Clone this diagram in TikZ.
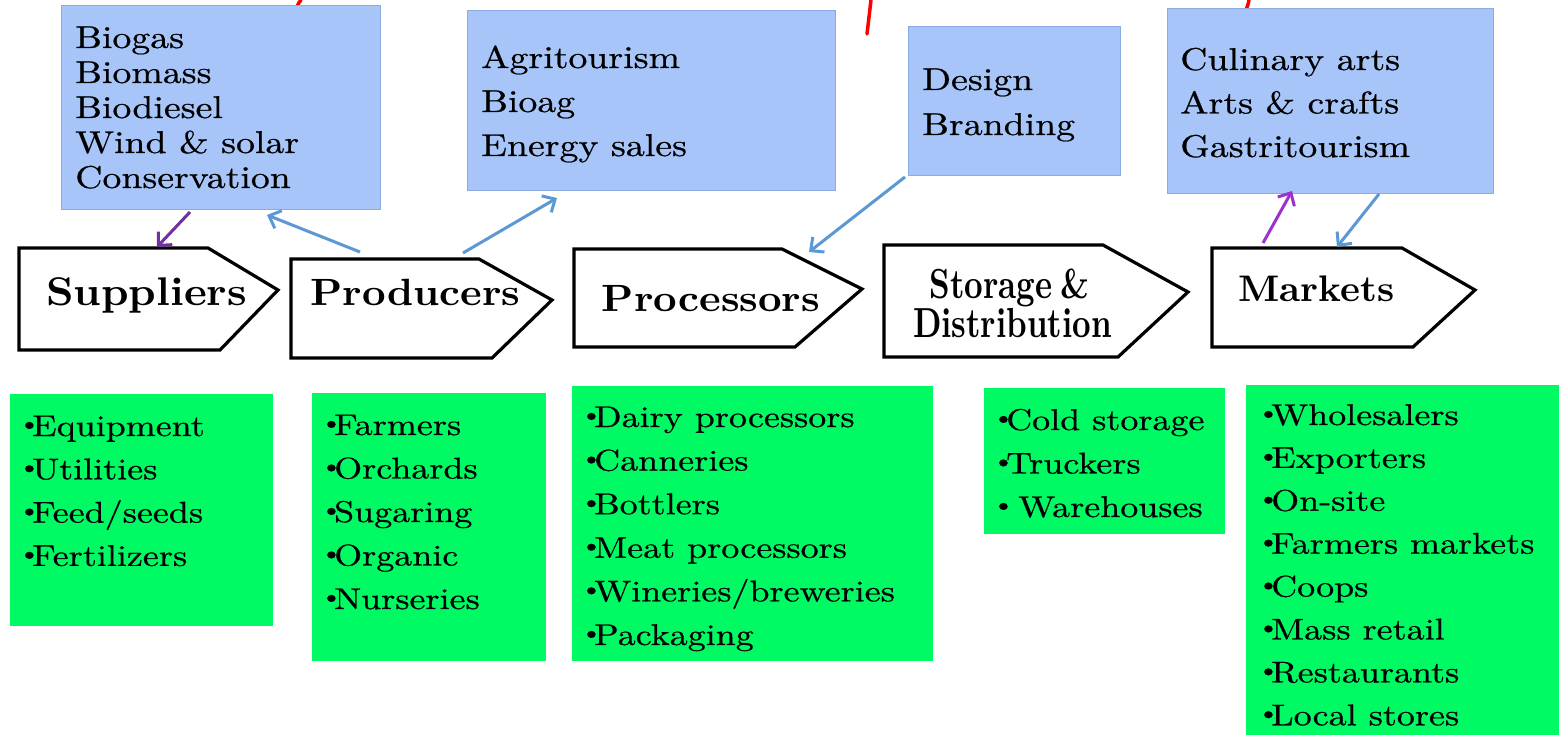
\documentclass[tikz,border=0pt]{standalone}
\usepackage{fontspec}
\usetikzlibrary{arrows.meta}
\newfontfamily\fbody[FakeStretch=1.2, FakeBold=0.6]{lmroman10-regular.otf}
\newfontfamily\fhead[FakeStretch=1.08]{lmroman10-bold.otf}
\newfontfamily\fmk[FakeStretch=1.02]{lmroman10-bold.otf}
\newfontfamily\fcond[FakeStretch=0.77]{lmroman10-bold.otf}
\definecolor{bluefill}{RGB}{167,197,249}
\definecolor{bluebd}{RGB}{140,172,225}
\definecolor{greenfill}{RGB}{0,250,100}
\definecolor{arrblue}{RGB}{91,152,212}
\definecolor{arrpurple}{RGB}{112,48,160}
\definecolor{arrviolet}{RGB}{155,50,205}
\newcommand{\bul}{\makebox[14pt][l]{\raisebox{5pt}{\fontsize{24}{24}\selectfont\textbullet}}}
\begin{document}
\begin{tikzpicture}[x=1pt,y=-1pt,
  bluebox/.style={draw=bluebd, line width=1pt, fill=bluefill, anchor=north west, inner sep=0pt},
  greenbox/.style={fill=greenfill, anchor=north west, inner sep=0pt},
  bluetext/.style={anchor=base west, inner sep=0pt, font=\fbody\fontsize{31.5}{36}\selectfont},
  greentext/.style={anchor=base west, inner sep=0pt, font=\fbody\fontsize{30}{36}\selectfont},
  pent/.style={draw=black, line width=3.2pt, fill=white, line join=miter},
  headtext/.style={anchor=base, inner sep=0pt, font=\fhead\fontsize{38}{40}\selectfont},
  conn/.style={line width=3pt, -{Straight Barb[length=10pt,width=19pt,line width=3pt]}},
  redmark/.style={draw=red, line width=3.5pt, line cap=round}
]
\useasboundingbox (0,0) rectangle (1559,735);
\fill[white] (0,0) rectangle (1559,735);

% red fragments of a cut-off title
\draw[redmark] (301,0) .. controls (297,5) .. (299,11);
\draw[redmark] (871,0) -- (867,34);
\draw[redmark] (1249,0) .. controls (1247,9) .. (1240,17);

% blue boxes
\node[bluebox, minimum width=319pt, minimum height=204pt] (b1) at (61,5) {};
\node[bluebox, minimum width=368pt, minimum height=180pt] (b2) at (467,10) {};
\node[bluebox, minimum width=212pt, minimum height=149pt] (b3) at (908,26) {};
\node[bluebox, minimum width=326pt, minimum height=185pt] (b4) at (1167,8) {};

\foreach \t [count=\i] in {Biogas, Biomass, Biodiesel, Wind \& solar, Conservation}
  \node[bluetext] (b1-\i) at (75,{48+(\i-1)*35}) {\t};
\foreach \t [count=\i] in {Agritourism, Bioag, Energy sales}
  \node[bluetext] (b2-\i) at (481,{68+(\i-1)*44}) {\t};
\foreach \t [count=\i] in {Design, Branding}
  \node[bluetext] (b3-\i) at (922,{90+(\i-1)*45}) {\t};
\foreach \t [count=\i] in {Culinary arts, Arts \& crafts, Gastritourism}
  \node[bluetext] (b4-\i) at (1180,{70+(\i-1)*43.5}) {\t};

% pentagons
\draw[pent] (19,248) -- (208,248) -- (278,290) -- (220,350) -- (19,350) -- cycle;
\draw[pent] (291,259) -- (479,259) -- (552,300) -- (492,358) -- (291,358) -- cycle;
\draw[pent] (574,249) -- (782,249) -- (862,289) -- (795,347) -- (574,347) -- cycle;
\draw[pent] (884,245) -- (1103,245) -- (1188,292) -- (1118,357) -- (884,357) -- cycle;
\draw[pent] (1212,248) -- (1402,248) -- (1475,290) -- (1413,347) -- (1212,347) -- cycle;

\node[headtext, font=\fhead\fontsize{40}{40}\selectfont] (p1) at (146.5,306) {Suppliers};
\node[headtext] (p2) at (415.5,306) {Producers};
\node[headtext] (p3) at (711,312) {Processors};
\node[headtext, font=\fcond\fontsize{42}{42}\selectfont] (p4a) at (1009.5,299) {Storage\hspace{8pt}\&};
\node[headtext, font=\fcond\fontsize{42}{42}\selectfont] (p4b) at (1012.5,338) {Distribution};
\node[headtext, font=\fmk\fontsize{37}{38}\selectfont] (p5) at (1316.5,302) {Markets};

% connector end points on the shapes
\coordinate (b1-o) at (190,212);
\coordinate (p1-i) at (157,247);
\coordinate (p2-o1) at (360,252);
\coordinate (b1-i) at (267,215);
\coordinate (p2-o2) at (463,253);
\coordinate (b2-i) at (557,198);
\coordinate (b3-o) at (905,177);
\coordinate (p3-i) at (809,252);
\coordinate (p5-o) at (1263,243);
\coordinate (b4-i) at (1292,191);
\coordinate (b4-o) at (1379,194);
\coordinate (p5-i) at (1337,247);

\draw[conn, arrpurple] (b1-o) -- (p1-i);
\draw[conn, arrblue] (p2-o1) -- (b1-i);
\draw[conn, arrblue] (p2-o2) -- (b2-i);
\draw[conn, arrblue] (b3-o) -- (p3-i);
\draw[conn, arrviolet] (p5-o) -- (b4-i);
\draw[conn, arrblue] (b4-o) -- (p5-i);

% green boxes
\node[greenbox, minimum width=263pt, minimum height=232pt] (g1) at (10,394) {};
\node[greenbox, minimum width=234pt, minimum height=268pt] (g2) at (312,393) {};
\node[greenbox, minimum width=361pt, minimum height=275pt] (g3) at (572,386) {};
\node[greenbox, minimum width=241pt, minimum height=146pt] (g4) at (984,388) {};
\node[greenbox, minimum width=313pt, minimum height=350pt] (g5) at (1246,385) {};

\foreach \t [count=\i] in {Equipment, Utilities, Feed/seeds, Fertilizers}
  \node[greentext] (g1-\i) at (18,{436+(\i-1)*43.3}) {\bul\t};
\foreach \t [count=\i] in {Farmers, Orchards, Sugaring, Organic, Nurseries}
  \node[greentext] (g2-\i) at (320,{435+(\i-1)*43.5}) {\bul\t};
\foreach \t [count=\i] in {Dairy processors, Canneries, Bottlers, Meat processors, Wineries/breweries, Packaging}
  \node[greentext] (g3-\i) at (580,{427+(\i-1)*43.6}) {\bul\t};
\foreach \t [count=\i] in {Cold storage, Truckers, {\ Warehouses}}
  \node[greentext] (g4-\i) at (992,{430+(\i-1)*43.5}) {\bul\t};
\foreach \t [count=\i] in {Wholesalers, Exporters, On-site, Farmers markets, Coops, Mass retail, Restaurants, Local stores}
  \node[greentext] (g5-\i) at (1257,{425+(\i-1)*42.9}) {\bul\t};
\end{tikzpicture}
\end{document}
